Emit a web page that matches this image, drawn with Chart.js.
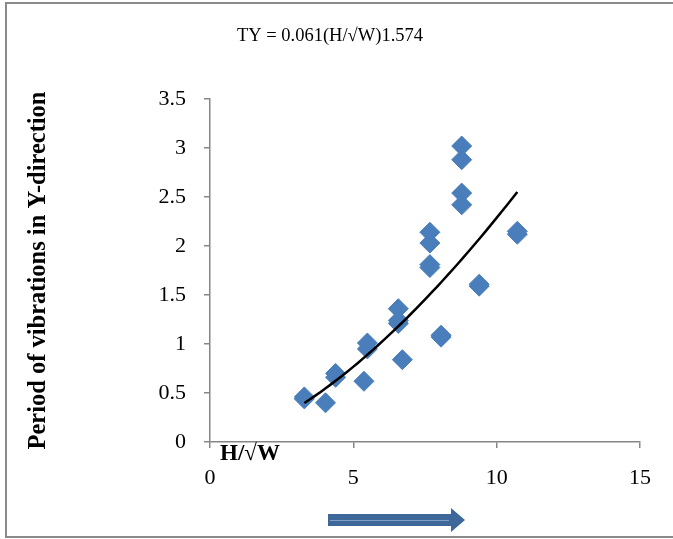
<!DOCTYPE html>
<html>
<head>
<meta charset="utf-8">
<script src="https://cdn.jsdelivr.net/npm/chart.js@4/dist/chart.umd.min.js"></script>
<style>
  html, body { margin: 0; padding: 0; background: #ffffff; }
  #wrap { position: relative; width: 673px; height: 539px; }
</style>
</head>
<body>
<div id="wrap"><canvas id="c"></canvas></div>
<script>
// H/√W values of the buildings
const hOverSqrtW = [
  3.29, 3.29, 4.03, 4.38, 4.38, 5.37, 5.49, 5.49,
  6.57, 6.57, 6.57, 6.71, 7.67, 7.67, 7.67, 7.67,
  8.06, 8.06, 8.78, 8.78, 8.78, 8.78, 9.39, 9.39,
  10.72, 10.72
];
// Period of vibration in the Y-direction (s)
const periodY = [
  0.46, 0.44, 0.40, 0.70, 0.66, 0.62, 1.01, 0.95,
  1.36, 1.24, 1.21, 0.84, 2.14, 2.03, 1.81, 1.78,
  1.09, 1.07, 3.02, 2.88, 2.54, 2.42, 1.61, 1.59,
  2.15, 2.12
];
// Power trendline TY = a·(H/√W)^b, as stated in the chart
const trendCoef = [0.061];
const trendExp = [1.574];
const xTicks = [0, 5, 10, 15];
const yTicks = [0, 0.5, 1, 1.5, 2, 2.5, 3, 3.5];

const equationText = 'TY = 0.061(H/\u221AW)1.574';
const xAxisLabel = 'H/\u221AW';
const yAxisLabel = 'Period of vibrations in Y-direction';

const points = hOverSqrtW.map((x, i) => ({ x: x, y: periodY[i] }));

// trendline over the data range
const xMin = Math.min(...hOverSqrtW), xMax = Math.max(...hOverSqrtW);
const trend = [];
const steps = 40;
for (let i = 0; i <= steps; i++) {
  const x = xMin + (xMax - xMin) * i / steps;
  trend.push({ x: x, y: trendCoef[0] * Math.pow(x, trendExp[0]) });
}

const SERIF = "'Liberation Serif', 'Times New Roman', serif";
const AXIS_GREY = '#868686';

const decor = {
  id: 'decor',
  afterDraw(chart) {
    const ctx = chart.ctx;
    const xs = chart.scales.x, ys = chart.scales.y;
    ctx.save();
    // outer frame
    ctx.strokeStyle = '#8a8a8a';
    ctx.lineWidth = 2;
    ctx.strokeRect(6, 3, 700, 534);

    // equation
    ctx.fillStyle = '#000';
    ctx.font = '18.5px ' + SERIF;
    ctx.textAlign = 'center';
    ctx.textBaseline = 'middle';
    ctx.fillText(equationText, 330, 36);

    // x-axis name, just under the axis at its start
    ctx.font = 'bold 23px ' + SERIF;
    ctx.textAlign = 'left';
    ctx.fillText(xAxisLabel, xs.left + 10, ys.bottom + 12);

    // direction arrow under the x-axis
    const ax0 = 328, ax1 = 465, ay = 520, sh = 6, hh = 12, hl = 14;
    ctx.fillStyle = '#3d6899';
    ctx.beginPath();
    ctx.moveTo(ax0, ay - sh);
    ctx.lineTo(ax1 - hl, ay - sh);
    ctx.lineTo(ax1 - hl, ay - hh);
    ctx.lineTo(ax1, ay);
    ctx.lineTo(ax1 - hl, ay + hh);
    ctx.lineTo(ax1 - hl, ay + sh);
    ctx.lineTo(ax0, ay + sh);
    ctx.closePath();
    ctx.fill();
    ctx.strokeStyle = '#7f9fc6';
    ctx.lineWidth = 1;
    ctx.beginPath();
    ctx.moveTo(ax0 + 2, ay + 0.5);
    ctx.lineTo(ax1 - hl - 2, ay + 0.5);
    ctx.stroke();
    ctx.restore();
  }
};

const tickFont = { family: SERIF, size: 22 };

new Chart(document.getElementById('c'), {
  type: 'scatter',
  data: {
    datasets: [
      {
        type: 'line',
        label: 'Power trend',
        data: trend,
        borderColor: '#000000',
        borderWidth: 2.5,
        pointRadius: 0,
        fill: false,
        tension: 0,
        order: 0
      },
      {
        label: 'T(Y)',
        data: points,
        pointStyle: 'rectRot',
        pointRadius: 10,
        pointBackgroundColor: '#4a7ebb',
        pointBorderColor: '#4a7ebb',
        pointBorderWidth: 1,
        order: 1
      }
    ]
  },
  options: {
    responsive: true,
    maintainAspectRatio: false,
    animation: false,
    events: [],
    layout: { padding: { left: 0, right: 33, top: 99, bottom: 0 } },
    plugins: {
      legend: { display: false },
      tooltip: { enabled: false }
    },
    scales: {
      x: {
        type: 'linear',
        min: xTicks[0],
        max: xTicks[xTicks.length - 1],
        afterBuildTicks: s => { s.ticks = xTicks.map(v => ({ value: v })); },
        afterFit: s => { s.height = 97; },
        border: { display: true, color: AXIS_GREY, width: 1.5 },
        grid: { display: true, drawOnChartArea: false, drawTicks: true, tickLength: 6, color: AXIS_GREY, lineWidth: 1.5 },
        ticks: { color: '#000', padding: 17, font: tickFont, callback: v => String(v) }
      },
      y: {
        type: 'linear',
        min: yTicks[0],
        max: yTicks[yTicks.length - 1],
        afterBuildTicks: s => { s.ticks = yTicks.map(v => ({ value: v })); },
        afterFit: s => { s.width = 210; },
        border: { display: true, color: AXIS_GREY, width: 1.5 },
        grid: { display: true, drawOnChartArea: false, drawTicks: true, tickLength: 6, color: AXIS_GREY, lineWidth: 1.5 },
        ticks: { color: '#000', padding: 18, font: tickFont, callback: v => String(v) },
        title: {
          display: true,
          text: yAxisLabel,
          color: '#000',
          font: { family: SERIF, size: 24.5, weight: 'bold', lineHeight: 1.2 },
          padding: { top: 24, bottom: 0 }
        }
      }
    }
  },
  plugins: [decor]
});
</script>
</body>
</html>
